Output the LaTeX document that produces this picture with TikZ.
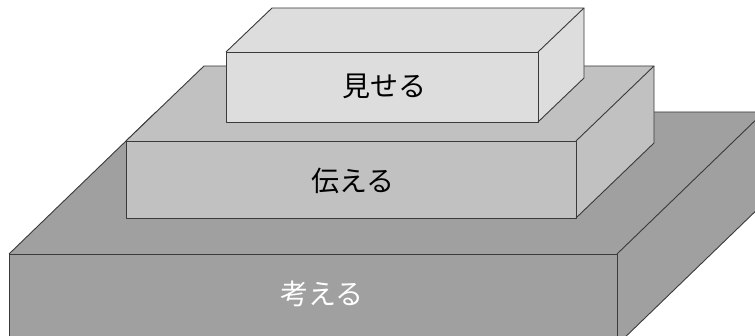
\documentclass[tikz,border=0pt]{standalone}
\usepackage{fontspec}
\newfontfamily\jpfont{Noto Sans CJK JP}
\definecolor{topc}{HTML}{DCDDDC}
\definecolor{midc}{HTML}{C0C1C0}
\definecolor{botc}{HTML}{9FA09F}
\definecolor{edgec}{HTML}{3A3A3A}
\tikzset{
  face/.style={draw=edgec, line width=0.9pt, line join=round},
  lbl/.style={font=\jpfont\fontsize{28}{28}\selectfont, inner sep=0pt, anchor=center}
}
\newcommand{\cuboid}[7]{% x1 y1 x2 y2 dx dy colour ; image coords (y down)
  \fill[#7] (#1,#2) -- (#1+#5,#2-#6) -- (#3+#5,#2-#6) -- (#3+#5,#4-#6) -- (#3,#4) -- (#1,#4) -- cycle;
  \draw[face] (#1,#2) -- (#1+#5,#2-#6) -- (#3+#5,#2-#6) -- (#3,#2);
  \draw[face] (#3+#5,#2-#6) -- (#3+#5,#4-#6) -- (#3,#4);
  \draw[face] (#1,#2) rectangle (#3,#4);
}
\begin{document}
\begin{tikzpicture}[x=1pt,y=-1pt]
\useasboundingbox (0,0) rectangle (755,336);
\begin{scope}
\clip (0,0) rectangle (755,336);
\cuboid{9}{254}{617}{345}{147}{142}{botc}
\cuboid{126}{141}{576}{218}{78}{75}{midc}
\cuboid{226}{52}{538}{122}{46}{44}{topc}
\end{scope}
\node[lbl, text=white] (kangaeru) at (322,294) {考える};
\node[lbl] (tsutaeru) at (353,181) {伝える};
\node[lbl] (miseru) at (384,86) {見せる};
\end{tikzpicture}
\end{document}
